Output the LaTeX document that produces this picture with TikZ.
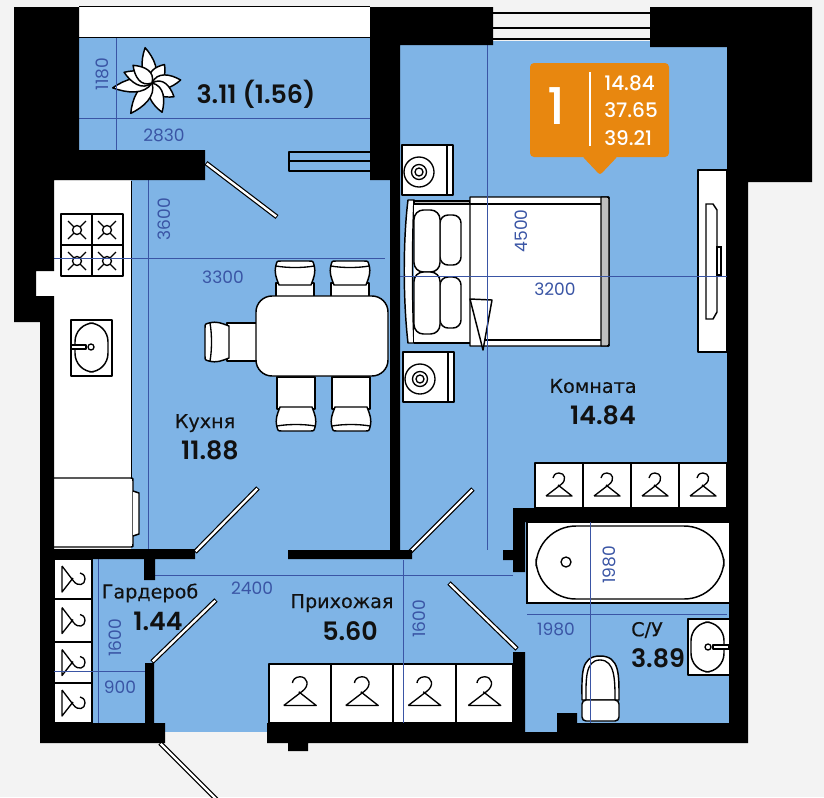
\documentclass[tikz,border=0pt]{standalone}
\usepackage{fontspec}
\setmainfont{Poppins}
\newfontfamily\numfont{Poppins Medium}
\newfontfamily\areafont{Poppins SemiBold}
\newfontfamily\rufont{DejaVu Sans}[FakeBold=0.15]
\usetikzlibrary{calc}
\usetikzlibrary{positioning}
\definecolor{pagebg}{HTML}{F3F3F3}
\definecolor{floorblue}{HTML}{7FB4E6}
\definecolor{dimblue}{HTML}{3A55A5}
\definecolor{badgeorange}{HTML}{E8870F}
\definecolor{inkblack}{HTML}{111111}
\tikzstyle{furn} = [draw=black, fill=white, line width=1.1pt, line join=round]
\tikzstyle{thinfurn} = [draw=black, line width=.8pt]
\tikzstyle{wall} = [fill=black]
\tikzstyle{dimline} = [draw=dimblue, line width=.6pt]
\tikzstyle{dimtext} = [text=dimblue, font=\fontsize{12.8}{14}\selectfont, inner sep=0pt]
\tikzstyle{dimvert} = [dimtext, rotate=90]
\tikzstyle{roomname} = [text=inkblack, font=\rufont\fontsize{14.4}{16}\selectfont, inner sep=0pt]
\tikzstyle{areatext} = [text=inkblack, font=\areafont\fontsize{19}{20}\selectfont, inner sep=0pt]
\tikzstyle{badgetext} = [text=white, font=\numfont\fontsize{15}{16}\selectfont, inner sep=0pt, anchor=west]
\tikzset{
  hanger/.pic={
    \draw[thinfurn, line width=1pt, line join=round] (-13,10) -- (13,10) -- (-1,-1)
      (-13,10) -- (2,-1.5) .. controls (8,-6) and (6,-13) .. (0,-13) .. controls (-4,-13) and (-6,-10) .. (-6,-8);
  },
  chair/.pic={
    \draw[furn] (-19,30) -- (-19,-2) -- (19,-2) -- (19,30) -- cycle;
    \draw[furn] (-16,0) .. controls (-19,-8) and (-21,-12) .. (-19,-20)
      .. controls (-18,-24) .. (-14,-24) -- (14,-24) .. controls (18,-24) .. (19,-20)
      .. controls (21,-12) and (19,-8) .. (16,0) -- cycle;
    \draw[thinfurn, line width=1pt] (-19,-19) .. controls (-8,-17) and (8,-17) .. (19,-19);
  },
  bedlamp/.pic={
    \draw[furn] (-17,-27) rectangle (34,23);
    \draw[thinfurn, line width=1pt] (28,-27) -- (28,23);
    \draw[thinfurn, line width=1pt] (0,0) circle (15) (0,0) circle (7.5) (0,0) circle (4);
  },
  petal/.pic={
    \draw[furn] (0,0) .. controls (11,-8) and (7,-24) .. (0,-36) .. controls (-7,-24) and (-11,-8) .. (0,0) -- cycle;
  },
  hob/.pic={
    \draw[thinfurn, line width=1pt] (0,0) circle (4.5) (-9,-9) -- (-3,-3) (9,-9) -- (3,-3) (-9,9) -- (-3,3) (9,9) -- (3,3);
  }
}
\begin{document}
\begin{tikzpicture}[x=.75pt, y=-.75pt]
    \useasboundingbox (0,0) rectangle (824,797);
    \clip (0,0) rectangle (824,797);
    \fill[pagebg] (0,0) rectangle (824,797);
    \fill[white] (79,7) rectangle (370,37);
    \draw[black, line width=1pt] (79,6.5) -- (370,6.5) (79,37.5) -- (370,37.5);
    \fill[floorblue] (79,38) rectangle (372,152);
    \fill[floorblue] (131,150) rectangle (395,560);
    \fill[floorblue] (398,41) rectangle (729,515);
    \fill[floorblue] (395,510) rectangle (520,560);
    \fill[floorblue] (92,555) rectangle (557,732);
    \fill[floorblue] (520,520) rectangle (729,725);
    \draw[black, line width=1pt] (493,13) -- (650,13) (493,28) -- (650,28) (493,39) -- (650,39);

    \fill[white] (54,181) rectangle (131,548);
    \fill[white] (36,271) rectangle (54,296);
    \draw[furn] (54,478) -- (131,478) .. controls (133,478) .. (133,481) -- (133,544) .. controls (133,547) .. (131,547) -- (54,547);
    \draw[furn] (133,491) -- (139,493) -- (139,534) -- (133,536);
    \draw[thinfurn, line width=1.1pt] (131.5,181) -- (131.5,478);
    \draw[furn] (61,214) rectangle (123,276);
    \draw[thinfurn, line width=1.1pt] (92,214) -- (92,276) (61,245) -- (123,245);
    \foreach \hx/\hy in {77/230, 107/230, 77/261, 107/261} {
        \pic at (\hx,\hy) {hob};
    }
    \draw[furn] (71,320) rectangle (112,376);
    \draw[thinfurn, line width=1.1pt, rounded corners=14] (75,323) rectangle (108,372);
    \draw[furn] (71,345) rectangle (86,349);
    \draw[thinfurn, line width=1pt] (91,347) circle (3);

    \pic[rotate=90] at (229,342) {chair};
    \pic at (295,285) {chair};
    \pic at (350,285) {chair};
    \pic[rotate=180] at (296,407) {chair};
    \pic[rotate=180] at (351,407) {chair};
    \draw[furn, rounded corners=12] (256,296) rectangle (388,376);

    \foreach \pang/\plen in {-11/1, 34/.62, 84/.8, 122/.72, 161/.86, 215/1.03, 263/1.1, 291/.83, 313/.72} {
        \pic[rotate=-\pang, yscale=\plen] at (152,83) {petal};
    }

    \draw[furn] (289,152) rectangle (370,171);
    \fill[floorblue] (290,153) rectangle (370,170);
    \draw[thinfurn, line width=1.1pt] (289,161) -- (370,161);

    \foreach \ax/\ay/\bx/\by in {206/163/277/217, 195/552/258/488, 410/552/473/489, 152/662/216/600, 449/583/517/649, 160/743/225/808} {
        \draw[black, line width=3.6pt] (\ax,\ay) -- (\bx,\by);
        \draw[white, line width=1.8pt, shorten >=.7pt, shorten <=.7pt] (\ax,\ay) -- (\bx,\by);
    }

    \pic at (419,172) {bedlamp};
    \pic at (420,379) {bedlamp};
    \draw[furn] (408,200) .. controls (403,240) and (403,300) .. (408,343) -- (414,343) .. controls (412,300) and (412,240) .. (414,200) -- cycle;
    \fill[white] (414,201) rectangle (470,343);
    \draw[thinfurn, line width=1.1pt, fill=black!25] (414,201) rectangle (470,204);
    \draw[thinfurn, line width=1.1pt] (414,343) -- (470,343);
    \draw[furn] (470,197) -- (607,197) .. controls (609,197) .. (609,199) -- (609,344) .. controls (609,346) .. (607,346) -- (483,346) -- (470,346) -- cycle;
    \draw[furn, fill=black!25] (601,197) -- (607,197) .. controls (609,197) .. (609,199) -- (609,344) .. controls (609,346) .. (607,346) -- (601,346) -- cycle;
    \draw[thinfurn, line width=1.1pt] (470,204) -- (601,204) (483,340) -- (601,340);
    \draw[furn, rounded corners=6] (440,215) rectangle (461,265);
    \draw[furn, rounded corners=6] (440,277) rectangle (461,328);
    \draw[furn, rounded corners=7] (414,210) rectangle (440,272);
    \draw[furn, rounded corners=7] (414,272) rectangle (440,334);
    \draw[furn] (470,299) -- (492,300) -- (483,350) -- cycle;

    \draw[furn] (698,170) rectangle (727,352);
    \draw[thinfurn, line width=1.1pt] (706,204) -- (713,204) -- (717,210) -- (717,312) -- (713,319) -- (706,319) -- cycle;
    \draw[thinfurn, line width=1.1pt] (717,247) rectangle (721,275);

    \foreach \wx in {535, 583, 631, 679} {
        \draw[furn] (\wx,463) rectangle ++(48,45);
        \pic at (\wx+24,486) {hanger};
    }
    \foreach \wx/\wlen in {269/62, 331/62, 393/63, 456/57} {
        \draw[furn] (\wx,664) rectangle ++(\wlen,59);
        \pic[scale=1.25] at (\wx+\wlen/2,693) {hanger};
    }
    \foreach \wy/\wlen in {559/40, 599/43, 642/41, 683/40} {
        \draw[furn] (54,\wy) rectangle ++(38,\wlen);
        \pic[rotate=-90] at (72,\wy+\wlen/2) {hanger};
    }

    \fill[white] (527,522) rectangle (729,603);
    \draw[thinfurn, line width=1.1pt] (729,522) -- (527,522) -- (527,603) -- (729,603);
    \draw[furn, rounded corners=30] (536,526) rectangle (724,599);
    \draw[thinfurn, line width=1pt] (566,562) circle (5);
    \draw[furn] (729,619) -- (688,619) -- (688,675) -- (729,675);
    \draw[thinfurn, line width=1.1pt, rounded corners=14] (691,622) rectangle (724,672);
    \draw[furn] (713,645) rectangle (729,649);
    \draw[thinfurn, line width=1pt] (708,647) circle (3);
    \draw[furn] (582,700) .. controls (582,675) and (580,656) .. (600,656) .. controls (620,656) and (619,675) .. (619,700) -- cycle;
    \draw[thinfurn, line width=1pt] (586,700) .. controls (586,680) and (585,660) .. (600,660) .. controls (615,660) and (615,680) .. (615,700);
    \draw[furn, rounded corners=3] (582,700) rectangle (619,721);

    \path[dimline] (116,38) -- (116,150);
    \path[dimline] (79,118) -- (370,118);
    \path[dimline] (148,180) -- (148,549);
    \path[dimline] (54,258) -- (385,258);
    \path[dimline] (487,45) -- (487,550);
    \path[dimline] (400,276) -- (727,276);
    \path[dimline] (155,575) -- (513,575);
    \path[dimline] (403,560) -- (403,723);
    \path[dimline] (98,559) -- (98,723);
    \path[dimline] (54,671) -- (147,671);
    \path[dimline] (590,522) -- (590,723);
    \path[dimline] (527,614) -- (727,614);

    \fill[wall] (14,7) -- (79,7) -- (79,150) -- (205,150) -- (205,180) -- (54,180) -- (54,271) -- (36,271) -- (36,296) -- (54,296) -- (54,549) -- (195,549) -- (195,559) -- (155,559) -- (155,580) -- (144,580) -- (144,559) -- (54,559) -- (54,723) -- (145,723) -- (145,663) -- (154,663) -- (154,723) -- (165,723) -- (165,743) -- (40,743) -- (40,322) -- (14,322) -- cycle;
    \fill[wall] (370,7) -- (493,7) -- (493,45) -- (400,45) -- (400,550) -- (412,550) -- (412,559) -- (288,559) -- (288,550) -- (390,550) -- (390,180) -- (370,180) -- cycle;
    \fill[wall] (650,7) -- (812,7) -- (812,182) -- (748,182) -- (748,743) -- (308,743) -- (308,751) -- (288,751) -- (288,743) -- (267,743) -- (267,723) -- (513,723) -- (513,652) -- (525,652) -- (525,732) -- (557,732) -- (557,713) -- (577,713) -- (577,723) -- (729,723) -- (729,522) -- (525,522) -- (525,572) -- (513,572) -- (513,560) -- (503,560) -- (503,550) -- (513,550) -- (513,508) -- (727,508) -- (727,47) -- (650,47) -- cycle;

    \node[dimvert] (balcony_h) at (102,74) {1180};
    \node[dimtext] (balcony_w) at (164,135) {2830};
    \node[dimvert] (kitchen_h) at (164,219) {3600};
    \node[dimtext] (kitchen_w) at (223,277) {3300};
    \node[dimvert] (room_h) at (521,231) {4500};
    \node[dimtext] (room_w) at (555,289) {3200};
    \node[dimtext] (hall_w) at (252,588) {2400};
    \node[dimvert] (closet_h) at (115,638) {1600};
    \node[dimtext] (closet_w) at (120,687) {900};
    \node[dimvert] (hall_h) at (419,619) {1600};
    \node[dimvert] (bath_h) at (609,565) {1980};
    \node[dimtext] (bath_w) at (556,629) {1980};

    \node[areatext] (balcony_area) at (256,94) {3.11 (1.56)};
    \node[roomname] (kitchen_name) at (205,423) {Кухня};
    \node[areatext] (kitchen_area) at ($(kitchen_name)+(5,27)$) {11.88};
    \node[roomname] (room_name) at (593,386) {Комната};
    \node[areatext] (room_area) at ($(room_name)+(10,29)$) {14.84};
    \node[roomname] (closet_name) at (150,593) {Гардероб};
    \node[areatext] (closet_area) at ($(closet_name)+(8,28)$) {1.44};
    \node[roomname] (hall_name) at (342,603) {Прихожая};
    \node[areatext] (hall_area) at ($(hall_name)+(8,28)$) {5.60};
    \node[roomname] (bath_name) at (647,630) {С/У};
    \node[areatext] (bath_area) at ($(bath_name)+(11,28)$) {3.89};

    \fill[badgeorange, rounded corners=3] (530,63) rectangle (669,157);
    \fill[badgeorange, rounded corners=2] (582,156) -- (600,175) -- (618,156) -- cycle;
    \draw[white, line width=1.5pt] (590,72) -- (590,146);
    \node[text=white, font=\numfont\fontsize{38}{40}\selectfont, inner sep=0pt] (badge_rooms) at (556,106) {1};
    \node[badgetext] (badge_living) at (604,83) {14.84};
    \node[badgetext] (badge_total) at (604,110) {37.65};
    \node[badgetext] (badge_full) at (604,138) {39.21};
\end{tikzpicture}
\end{document}
